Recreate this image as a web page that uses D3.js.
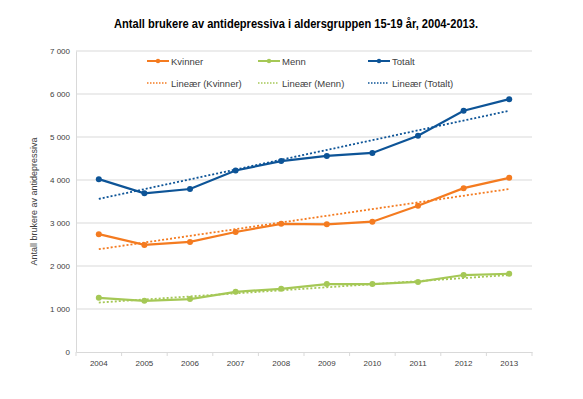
<!DOCTYPE html>
<html><head><meta charset="utf-8">
<script src="https://cdn.jsdelivr.net/npm/d3@7/dist/d3.min.js"></script>
<style>body{margin:0;background:#fff}svg{display:block;font-family:"Liberation Sans",Arial,sans-serif}</style>
</head><body><svg id="c" width="583" height="399"></svg>
<script>
const years = ["2004","2005","2006","2007","2008","2009","2010","2011","2012","2013"];
const kvinner = [2740,2490,2560,2790,2980,2970,3030,3400,3810,4050];
const menn    = [1260,1190,1230,1400,1470,1580,1580,1630,1790,1820];
const totalt  = [4020,3690,3790,4220,4440,4560,4630,5030,5610,5880];
// linear trendline endpoints (2004, 2013)
const trendKvinner = [2390,3790];
const trendMenn    = [1150,1790];
const trendTotalt  = [3560,5610];
const yTicks = [0,1000,2000,3000,4000,5000,6000,7000];
const title = "Antall brukere av antidepressiva i aldersgruppen 15-19 år, 2004-2013.";
const yTitle = "Antall brukere av antidepressiva";

const svg = d3.select("#c");
const L=76, R=532, T=51, B=352;
const x = d3.scaleBand().domain(years).range([L,R]);
const y = d3.scaleLinear().domain([0,7000]).range([B,T]);
const cx = d => x(d)+x.bandwidth()/2;
const fmt = v => d3.format(",")(v).replace(/,/g," ");

svg.append("text").attr("x",296).attr("y",28).attr("text-anchor","middle")
  .attr("font-weight","bold").attr("font-size",12.5).attr("fill","#000")
  .attr("textLength",364).attr("lengthAdjust","spacingAndGlyphs").text(title);

// gridlines
svg.append("g").selectAll("line").data(yTicks.filter(d=>d>0)).join("line")
  .attr("x1",L).attr("x2",R).attr("y1",d=>y(d)).attr("y2",d=>y(d))
  .attr("stroke","#d9d9d9").attr("stroke-width",1);
// y axis
const ya = svg.append("g").attr("transform",`translate(${L},0)`)
  .call(d3.axisLeft(y).tickValues(yTicks).tickFormat(fmt).tickSize(0).tickPadding(6));
ya.select(".domain").attr("stroke","#d9d9d9");
ya.selectAll("text").attr("font-size",8).attr("fill","#404040").attr("font-family","Liberation Sans, Arial, sans-serif");
// x axis
const xa = svg.append("g").attr("transform",`translate(0,${B})`)
  .call(d3.axisBottom(x).tickSize(0).tickPadding(8));
xa.select(".domain").attr("stroke","#d9d9d9");
xa.selectAll("text").attr("font-size",8).attr("fill","#404040").attr("font-family","Liberation Sans, Arial, sans-serif");
svg.append("g").selectAll("line").data(years.concat(["end"])).join("line")
  .attr("x1",(d,i)=>L+i*x.bandwidth()).attr("x2",(d,i)=>L+i*x.bandwidth())
  .attr("y1",B).attr("y2",B+4).attr("stroke","#d9d9d9");

svg.append("text").attr("transform",`translate(37,${(T+B)/2}) rotate(-90)`)
  .attr("text-anchor","middle").attr("font-size",9).attr("fill","#404040").text(yTitle);

const series = [
  {name:"Kvinner", vals:kvinner, trend:trendKvinner, color:"#f47b20"},
  {name:"Menn", vals:menn, trend:trendMenn, color:"#a5c856"},
  {name:"Totalt", vals:totalt, trend:trendTotalt, color:"#0d5497"}
];
const line = d3.line().x((d,i)=>cx(years[i])).y(d=>y(d));
series.forEach(s=>{
  svg.append("line").attr("x1",cx(years[0])).attr("x2",cx(years[years.length-1]))
    .attr("y1",y(s.trend[0])).attr("y2",y(s.trend[1]))
    .attr("stroke",s.color).attr("stroke-width",1.8).attr("stroke-dasharray","2,2");
});
series.forEach(s=>{
  svg.append("path").datum(s.vals).attr("d",line).attr("fill","none")
    .attr("stroke",s.color).attr("stroke-width",2.2);
  svg.append("g").selectAll("circle").data(s.vals).join("circle")
    .attr("cx",(d,i)=>cx(years[i])).attr("cy",d=>y(d)).attr("r",3).attr("fill",s.color);
});

// legend
const lx = [147,258,368];
series.forEach((s,i)=>{
  const g = svg.append("g");
  g.append("line").attr("x1",lx[i]).attr("x2",lx[i]+22).attr("y1",61).attr("y2",61)
    .attr("stroke",s.color).attr("stroke-width",2);
  g.append("circle").attr("cx",lx[i]+11).attr("cy",61).attr("r",2.2).attr("fill",s.color);
  g.append("text").attr("x",lx[i]+24).attr("y",64.5).attr("font-size",9.5).attr("fill","#404040").text(s.name);
  g.append("line").attr("x1",lx[i]).attr("x2",lx[i]+20).attr("y1",83).attr("y2",83)
    .attr("stroke",s.color).attr("stroke-width",1.5).attr("stroke-dasharray","1.5,1.5");
  g.append("text").attr("x",lx[i]+24).attr("y",86.5).attr("font-size",9.5).attr("fill","#404040").text("Lineær ("+s.name+")");
});
</script></body></html>
